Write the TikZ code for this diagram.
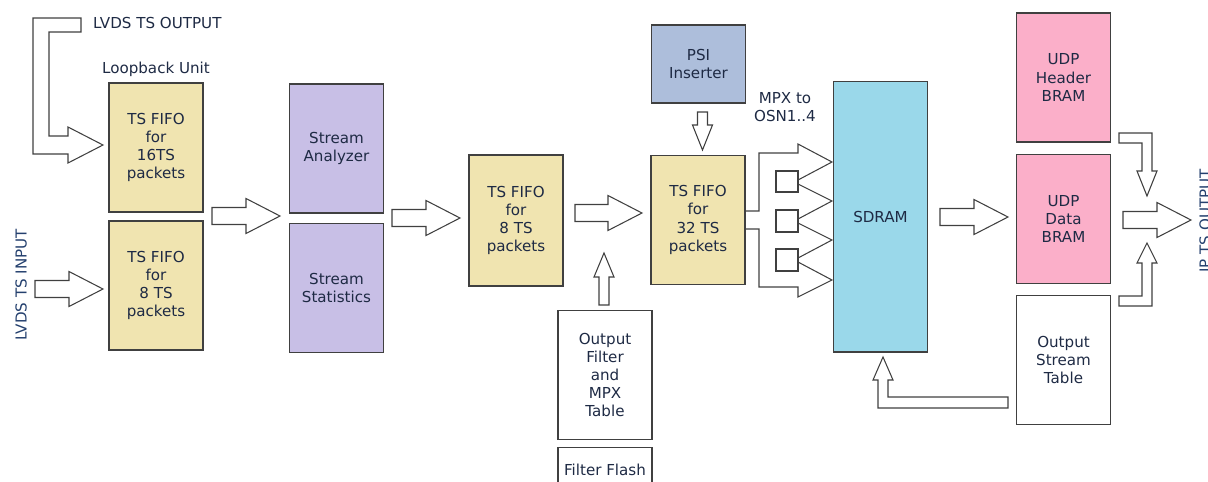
\documentclass[tikz,border=0pt]{standalone}
\usepackage{fontspec}
\setmainfont{DejaVu Sans}
\usetikzlibrary{positioning}
\definecolor{fifotan}{HTML}{F0E4B0}
\definecolor{streamlav}{HTML}{C8BFE6}
\definecolor{psiblue}{HTML}{ADBEDB}
\definecolor{sdramblue}{HTML}{9AD8EA}
\definecolor{brampink}{HTML}{FBAFC9}
\definecolor{labeltext}{HTML}{1E2A44}
\definecolor{sidetext}{HTML}{24406E}

% hollow block arrows, in pixel units of the picture
\newcommand{\rarrow}[4]{% tail x, head base x, tip x, centre y
  \draw[barrow] (#1,#4-8.5) -- (#2,#4-8.5) -- (#2,#4-17.5) -- (#3,#4) -- (#2,#4+17.5) -- (#2,#4+8.5) -- (#1,#4+8.5) -- cycle;}
\newcommand{\varrow}[4]{% centre x, tail y, head base y, tip y
  \draw[barrow] (#1-5,#2) -- (#1-5,#3) -- (#1-10,#3) -- (#1,#4) -- (#1+10,#3) -- (#1+5,#3) -- (#1+5,#2) -- cycle;}

\begin{document}
\begin{tikzpicture}[x=0.02cm, y=-0.02cm,
    font=\fontsize{8.6}{10.3}\selectfont,
    box/.style={draw=black!75, line width=0.6pt, align=center, text=labeltext, inner sep=1pt,
                minimum width=1.88cm, minimum height=2.58cm},
    fifo/.style={box, fill=fifotan},
    stream/.style={box, fill=streamlav},
    bram/.style={box, fill=brampink},
    note/.style={text=labeltext, align=center},
    side/.style={text=sidetext, rotate=90, font=\fontsize{8.6}{10}\selectfont},
    barrow/.style={draw=black!75, line width=0.6pt, fill=white}]
\useasboundingbox (0,0) rectangle (1208,481);

% input stage
\node[fifo] (fifoA) at (156,147.5) {TS FIFO\\for\\16TS\\packets};
\node[fifo] (fifoB) at (156,285.5) {TS FIFO\\for\\8 TS\\packets};
\node[note] (loopback) [above=0pt of fifoA] {Loopback Unit};
\node[note, anchor=west] (lvdsout) at (87,23) {LVDS TS OUTPUT};
\node[side] (lvdsin) at (21,285) {LVDS TS INPUT};

\node[stream] (anlz) at (336.5,148.5) {Stream\\Analyzer};
\node[stream] (stats) at (336.5,288) {Stream\\Statistics};

\node[fifo, minimum height=2.62cm] (fifoC) at (516,220.5) {TS FIFO\\for\\8 TS\\packets};
\node[box] (filt) at (605,375) {Output\\Filter\\and\\MPX\\Table};
\node[box, minimum height=0.9cm] (flash) at (605,470) {Filter Flash};

\node[box, fill=psiblue, minimum height=1.56cm] (psi) at (698.5,64) {PSI\\Inserter};
\node[fifo] (fifoD) at (698,220) {TS FIFO\\for\\32 TS\\packets};
\node[note] (mpx) at (785,107) {MPX to\\OSN1..4};

\node[box, fill=sdramblue, minimum height=5.42cm] (sdram) at (880.5,216.5) {SDRAM};

\node[bram] (hdr) at (1063.5,77.5) {UDP\\Header\\BRAM};
\node[bram] (data) at (1063.5,219) {UDP\\Data\\BRAM};
\node[box] (ost) at (1063.5,360) {Output\\Stream\\Table};
\node[side, anchor=north, inner sep=0pt] (ipout) at (1199,221) {IP TS OUTPUT};

% loop back to LVDS output
\draw[barrow] (33,18) -- (81,18) -- (81,32) -- (49,32) -- (49,136) -- (68,136) -- (68,127)
  -- (103,145) -- (68,163) -- (68,154) -- (33,154) -- cycle;

% straight arrows
\rarrow{35}{69}{103}{289}
\rarrow{212}{246}{280}{216}
\rarrow{392}{426}{460}{218}
\rarrow{575}{608}{642}{213}
\rarrow{940}{974}{1008}{217}
\rarrow{1123}{1157}{1191}{220}
\varrow{604}{305}{277}{253}
\varrow{702.5}{112}{125}{150}

% MPX fan-out to SDRAM
\draw[barrow, fill=none] (746,211) -- (759,211) -- (759,153) -- (798,153) -- (798,144) -- (832,162) -- (798,180);
\draw[barrow] (776,171) rectangle (798,192);
\draw[barrow] (776,210) rectangle (798,232);
\draw[barrow] (776,249) rectangle (798,271);
\draw[barrow, fill=none] (798,184) -- (832,201) -- (798,219);
\draw[barrow, fill=none] (798,223) -- (832,240) -- (798,258);
\draw[barrow, fill=none] (798,262) -- (832,280) -- (798,297) -- (798,287) -- (759,287) -- (759,229) -- (746,229);

% output stream table back to SDRAM
\draw[barrow] (1008,397) -- (888,397) -- (888,380) -- (893,380) -- (883,357) -- (873,380)
  -- (878,380) -- (878,408) -- (1008,408) -- cycle;

% into the IP output
\draw[barrow] (1119,133) -- (1152,133) -- (1152,171) -- (1157,171) -- (1147,196) -- (1137,171)
  -- (1142,171) -- (1142,143) -- (1119,143) -- cycle;
\draw[barrow] (1119,306) -- (1152,306) -- (1152,263) -- (1157,263) -- (1147,243) -- (1137,263)
  -- (1142,263) -- (1142,296) -- (1119,296) -- cycle;
\end{tikzpicture}
\end{document}
